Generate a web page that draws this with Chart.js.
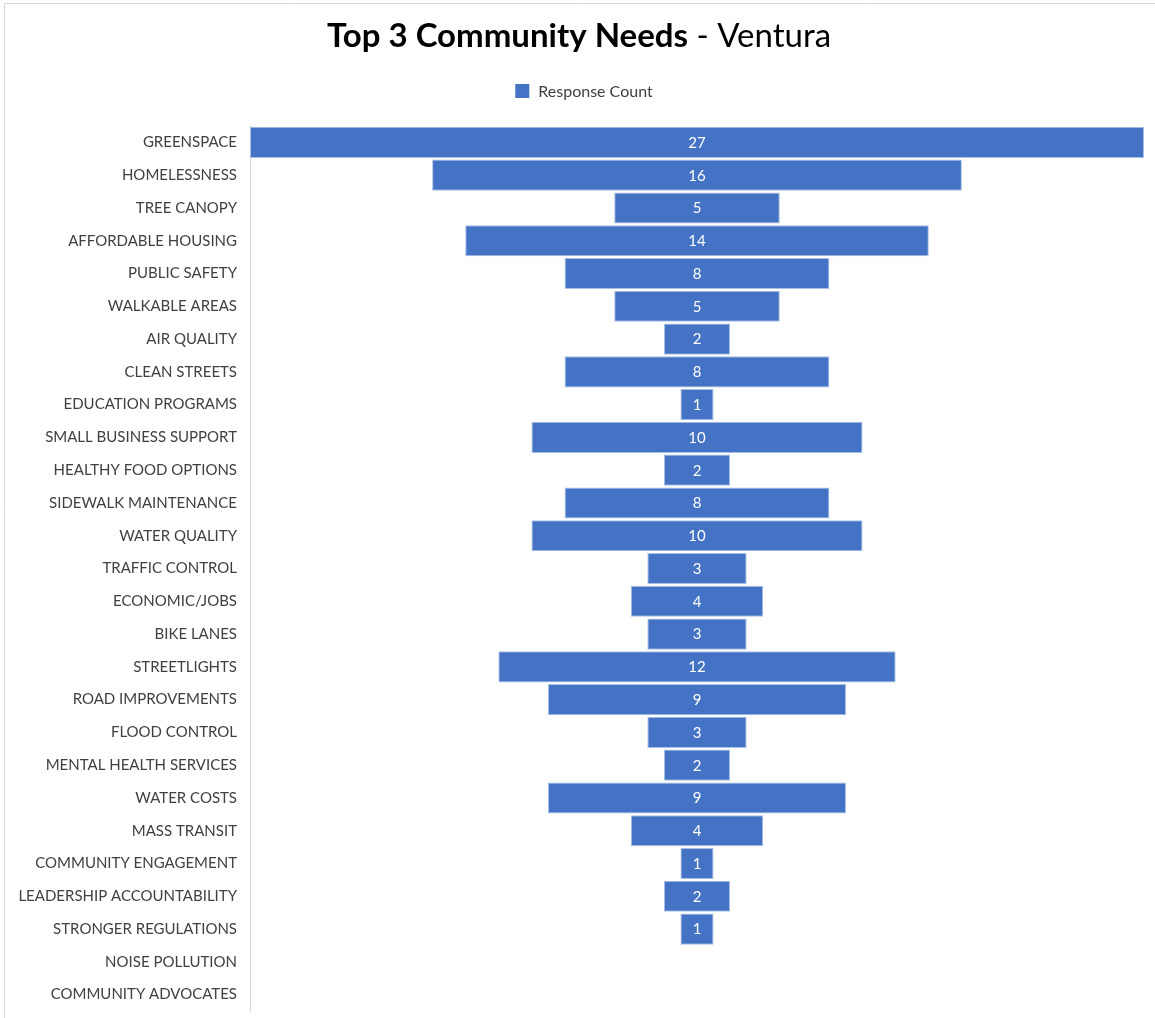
<!DOCTYPE html>
<html>
<head>
<meta charset="utf-8">
<title>Top 3 Community Needs - Ventura</title>
<script src="https://cdn.jsdelivr.net/npm/chart.js@4/dist/chart.umd.min.js"></script>
<style>
  html, body { margin: 0; padding: 0; background: #ffffff; }
  #wrap { position: relative; width: 1155px; height: 1018px; }
  canvas { display: block; }
</style>
</head>
<body>
<div id="wrap"><canvas id="chart" width="1155" height="1018"></canvas></div>
<script>
// Survey results: how many respondents named each item among their top 3 needs
const needs = [
  'GREENSPACE', 'HOMELESSNESS', 'TREE CANOPY', 'AFFORDABLE HOUSING', 'PUBLIC SAFETY',
  'WALKABLE AREAS', 'AIR QUALITY', 'CLEAN STREETS', 'EDUCATION PROGRAMS',
  'SMALL BUSINESS SUPPORT', 'HEALTHY FOOD OPTIONS', 'SIDEWALK MAINTENANCE',
  'WATER QUALITY', 'TRAFFIC CONTROL', 'ECONOMIC/JOBS', 'BIKE LANES', 'STREETLIGHTS',
  'ROAD IMPROVEMENTS', 'FLOOD CONTROL', 'MENTAL HEALTH SERVICES', 'WATER COSTS',
  'MASS TRANSIT', 'COMMUNITY ENGAGEMENT', 'LEADERSHIP ACCOUNTABILITY',
  'STRONGER REGULATIONS', 'NOISE POLLUTION', 'COMMUNITY ADVOCATES'
];
const responseCount = [27, 16, 5, 14, 8, 5, 2, 8, 1, 10, 2, 8, 10, 3, 4, 3, 12, 9, 3, 2, 9, 4, 1, 2, 1, 0, 0];

const titleBold = 'Top 3 Community Needs';
const titleRest = ' - Ventura';
const seriesName = 'Response Count';

const FONT = 'Lato, Carlito, Calibri, "Open Sans", sans-serif';
const BAR_BLUE = '#4472C4';

// Each bar is centred on zero so the list reads like a funnel
const maxCount = Math.max(...responseCount);
const centred = responseCount.map(v => (v > 0 ? [-v / 2, v / 2] : null));

// Frame, title and legend drawn on the canvas
const decorations = {
  id: 'decorations',
  afterDraw(chart) {
    const ctx = chart.ctx;
    const W = chart.width, H = chart.height;
    ctx.save();
    // light frame on the top and left edges
    ctx.strokeStyle = '#d9d9d9';
    ctx.lineWidth = 1;
    ctx.beginPath();
    ctx.moveTo(4.5, H);
    ctx.lineTo(4.5, 3.5);
    ctx.lineTo(W, 3.5);
    ctx.stroke();

    // title: bold lead, regular suffix
    const tSize = 33;
    const boldFont = 'bold ' + tSize + 'px ' + FONT;
    const normFont = tSize + 'px ' + FONT;
    ctx.font = boldFont;
    const wB = ctx.measureText(titleBold).width;
    ctx.font = normFont;
    const wR = ctx.measureText(titleRest).width;
    const tx = 579 - (wB + wR) / 2;
    const ty = 47;
    ctx.fillStyle = '#000000';
    ctx.textBaseline = 'alphabetic';
    ctx.textAlign = 'left';
    ctx.font = boldFont;
    ctx.fillText(titleBold, tx, ty);
    ctx.font = normFont;
    ctx.fillText(titleRest, tx + wB, ty);

    // legend
    ctx.font = '16px ' + FONT;
    const lw = ctx.measureText(seriesName).width;
    const box = 14, gap = 9;
    const lx = 584 - (box + gap + lw) / 2;
    const ly = 91;
    ctx.fillStyle = BAR_BLUE;
    ctx.fillRect(lx, ly - box / 2, box, box);
    ctx.fillStyle = '#404040';
    ctx.textBaseline = 'middle';
    ctx.fillText(seriesName, lx + box + gap, ly + 0.5);

    // value labels in the middle of each bar
    const meta = chart.getDatasetMeta(0);
    ctx.font = '15px ' + FONT;
    ctx.fillStyle = '#ffffff';
    ctx.textAlign = 'center';
    ctx.textBaseline = 'middle';
    meta.data.forEach((bar, i) => {
      const v = responseCount[i];
      if (!v) return;
      const p = bar.getProps(['x', 'y', 'base'], true);
      ctx.fillText(String(v), (p.x + p.base) / 2, p.y + 0.5);
    });
    ctx.restore();
  }
};

new Chart(document.getElementById('chart'), {
  type: 'bar',
  data: {
    labels: needs,
    datasets: [{
      label: seriesName,
      data: centred,
      backgroundColor: BAR_BLUE,
      borderColor: '#a9bfe6',
      borderWidth: 1,
      borderSkipped: false,
      barPercentage: 0.95,
      categoryPercentage: 1.0
    }]
  },
  options: {
    indexAxis: 'y',
    responsive: false,
    animation: false,
    devicePixelRatio: 1,
    layout: { padding: { top: 126, right: 11, bottom: 7, left: 0 } },
    plugins: {
      legend: { display: false },
      title: { display: false },
      tooltip: { enabled: false }
    },
    scales: {
      x: {
        type: 'linear',
        min: -maxCount / 2,
        max: maxCount / 2,
        display: false
      },
      y: {
        grid: { display: false, drawTicks: false },
        border: { display: true, color: '#d9d9d9', width: 1 },
        ticks: {
          autoSkip: false,
          padding: 13,
          color: '#404040',
          font: { family: FONT, size: 15 }
        },
        afterFit(scale) {
          scale.width = 250;
          scale.paddingTop = 0;
          scale.paddingBottom = 0;
        }
      }
    }
  },
  plugins: [decorations]
});
</script>
</body>
</html>
